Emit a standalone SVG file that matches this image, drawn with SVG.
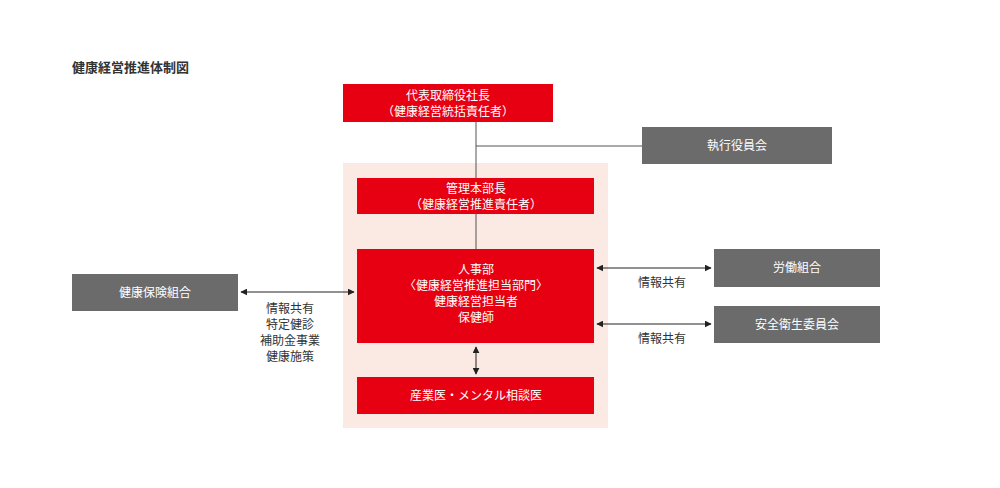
<svg xmlns="http://www.w3.org/2000/svg" width="1000" height="488" viewBox="0 0 1000 488">
<defs>
<style>
text{font-family:"Noto Sans CJK JP","Noto Sans",sans-serif;font-size:12px;text-anchor:middle}
.r{fill:#e60012}.g{fill:#6b6b6b}.w{fill:#fff}.k{fill:#333}
.l{stroke:#555;stroke-width:1;fill:none}
.a{stroke:#222;stroke-width:1;fill:none;marker-start:url(#m);marker-end:url(#m)}
</style>
<marker id="m" viewBox="0 0 10 10" refX="9" refY="5" markerWidth="7" markerHeight="7" orient="auto-start-reverse"><path d="M0,0L10,5L0,10z" fill="#222"/></marker>
</defs>
<rect width="1000" height="488" fill="#fff"/>
<text x="72" y="72" style="text-anchor:start;font-weight:bold;font-size:13px" class="k">健康経営推進体制図</text>
<rect x="343" y="163" width="265" height="265" fill="#fbe9e3"/>
<g id="connectors">
<path class="l" d="M476,122V178M476,146H642M476,214V249"/>
<path class="a" d="M476,347V374"/>
<path class="a" d="M241,292H354"/>
<path class="a" d="M597,268H711"/>
<path class="a" d="M597,324H711"/>
<text x="290" y="313" class="k">情報共有</text>
<text x="290" y="329" class="k">特定健診</text>
<text x="290" y="345" class="k">補助金事業</text>
<text x="290" y="361" class="k">健康施策</text>
<text x="662" y="287" class="k">情報共有</text>
<text x="662" y="343" class="k">情報共有</text>
</g>
<g id="ceo"><rect class="r" x="343" y="84" width="210" height="38"/><text class="w" x="448" y="100">代表取締役社長</text><text class="w" x="448" y="116">（健康経営統括責任者）</text></g>
<g id="board"><rect class="g" x="642" y="127" width="190" height="37"/><text class="w" x="737" y="150">執行役員会</text></g>
<g id="admin"><rect class="r" x="357" y="178" width="237" height="36"/><text class="w" x="476" y="193">管理本部長</text><text class="w" x="476" y="209">（健康経営推進責任者）</text></g>
<g id="hr"><rect class="r" x="357" y="249" width="237" height="94"/><text class="w" x="476" y="274">人事部</text><text class="w" x="476" y="290">〈健康経営推進担当部門〉</text><text class="w" x="476" y="306">健康経営担当者</text><text class="w" x="476" y="322">保健師</text></g>
<g id="doctor"><rect class="r" x="357" y="377" width="237" height="37"/><text class="w" x="476" y="400">産業医・メンタル相談医</text></g>
<g id="insurance"><rect class="g" x="72" y="274" width="166" height="37"/><text class="w" x="155" y="297">健康保険組合</text></g>
<g id="union"><rect class="g" x="714" y="249" width="166" height="38"/><text class="w" x="797" y="272">労働組合</text></g>
<g id="safety"><rect class="g" x="714" y="306" width="166" height="37"/><text class="w" x="797" y="329">安全衛生委員会</text></g>
</svg>
